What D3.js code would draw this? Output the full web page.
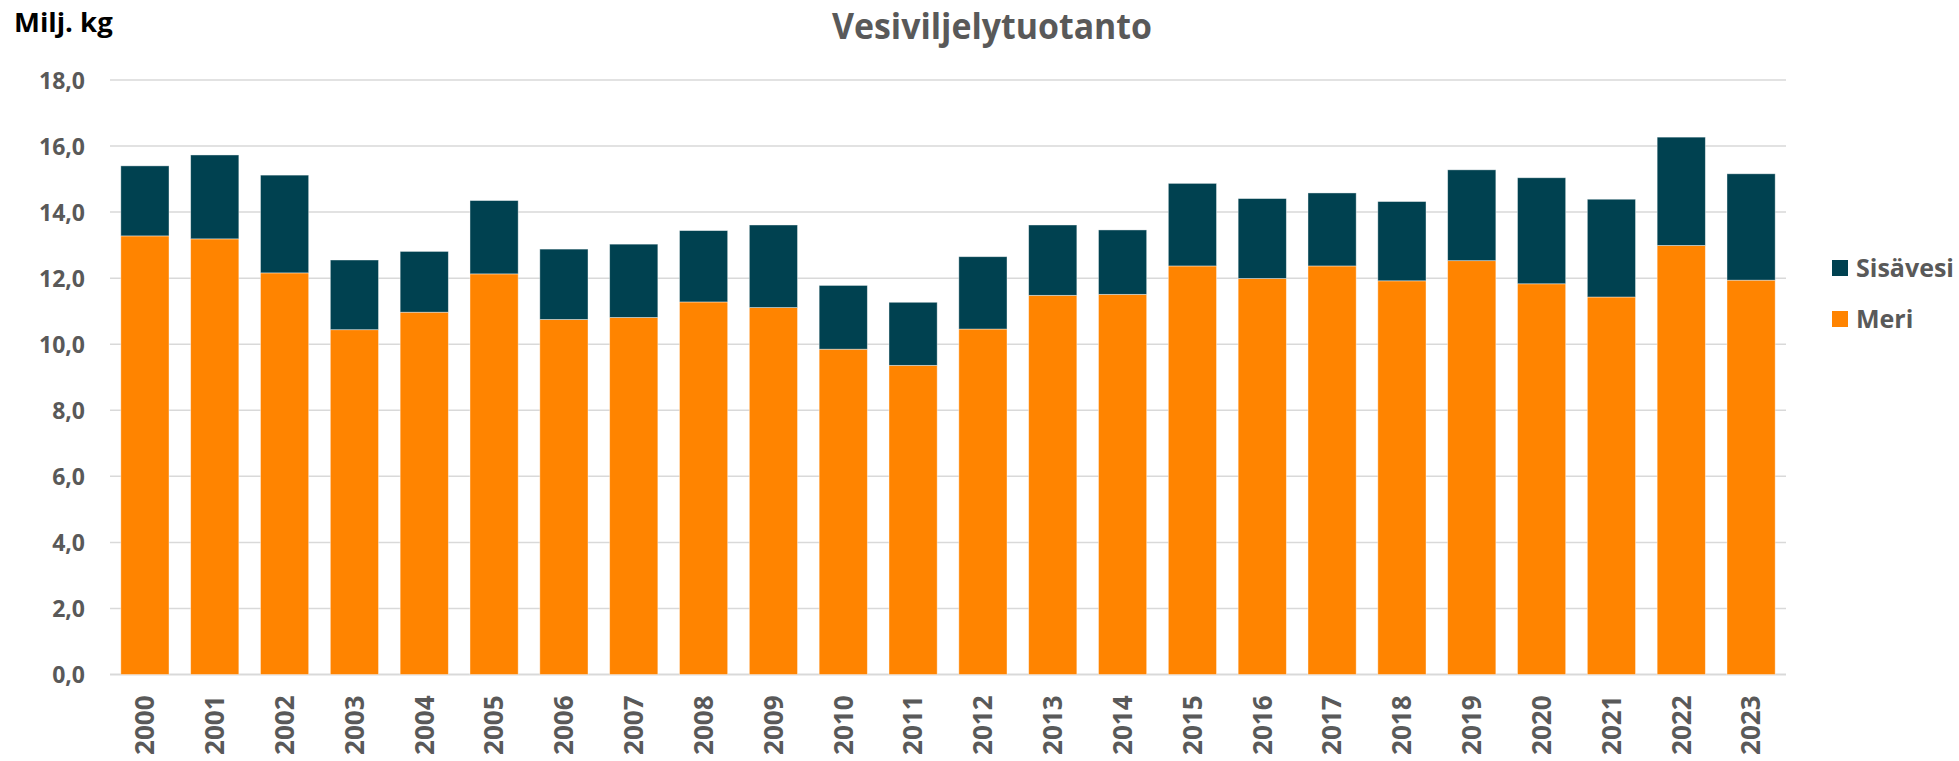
<!DOCTYPE html>
<html>
<head>
<meta charset="utf-8">
<script src="https://cdn.jsdelivr.net/npm/d3@7"></script>
<style>
  body { margin: 0; background: #fff; }
  svg { display: block; font-family: "Open Sans", "Noto Sans", sans-serif; }
</style>
</head>
<body>
<svg width="1959" height="761"></svg>
<script>
const years = ["2000","2001","2002","2003","2004","2005","2006","2007","2008","2009","2010","2011",
  "2012","2013","2014","2015","2016","2017","2018","2019","2020","2021","2022","2023"];
const meri = [13.28, 13.19, 12.16, 10.44, 10.97, 12.13, 10.75, 10.81, 11.28, 11.11, 9.85, 9.36,
  10.46, 11.48, 11.51, 12.37, 11.99, 12.37, 11.92, 12.53, 11.83, 11.43, 12.99, 11.94];
const sisavesi = [2.12, 2.54, 2.96, 2.11, 1.84, 2.22, 2.13, 2.22, 2.16, 2.50, 1.93, 1.91,
  2.19, 2.13, 1.95, 2.50, 2.42, 2.21, 2.40, 2.75, 3.21, 2.96, 3.28, 3.22];
const yTicks = [0, 2, 4, 6, 8, 10, 12, 14, 16, 18];
const seriesNames = ["Meri", "Sisävesi"];

const svg = d3.select("svg");
const grey = "#595959";

const color = d3.scaleOrdinal()
  .domain(seriesNames)
  .range(["#ff8400", "#004150"]);

const x = d3.scaleBand()
  .domain(years)
  .range([110, 1786])
  .paddingInner(0.31)
  .paddingOuter(0.155);

const y = d3.scaleLinear()
  .domain([0, 18])
  .range([674.5, 80]);

// rows for the stack
const rows = years.map((yr, i) => ({ year: yr, "Meri": meri[i], "Sisävesi": sisavesi[i] }));
const stacked = d3.stack().keys(seriesNames)(rows);

// gridlines
svg.append("g")
  .selectAll("line")
  .data(yTicks)
  .join("line")
  .attr("x1", 110)
  .attr("x2", 1786)
  .attr("y1", d => y(d))
  .attr("y2", d => y(d))
  .attr("stroke", "#d9d9d9")
  .attr("stroke-width", d => d === 0 ? 2 : 1.5);

// y axis labels
const yAxis = svg.append("g")
  .attr("transform", "translate(85,0)")
  .call(d3.axisLeft(y).tickValues(yTicks).tickSize(0).tickPadding(0)
    .tickFormat(d => d3.format(".1f")(d).replace(".", ",")));
yAxis.select(".domain").remove();
yAxis.selectAll("text")
  .attr("font-family", "Open Sans")
  .attr("font-size", 23)
  .attr("font-weight", "bold")
  .attr("fill", grey)
  .attr("dy", "0.36em");

// bars
svg.append("g")
  .selectAll("g")
  .data(stacked)
  .join("g")
  .attr("fill", d => color(d.key))
  .selectAll("rect")
  .data(d => d)
  .join("rect")
  .attr("x", d => x(d.data.year))
  .attr("width", x.bandwidth())
  .attr("y", d => y(d[1]))
  .attr("height", d => y(d[0]) - y(d[1]))
  .attr("stroke", "#fff")
  .attr("stroke-opacity", 0.5)
  .attr("stroke-width", 0.8);

// x axis labels
const xAxis = svg.append("g")
  .attr("transform", "translate(0,674.5)")
  .call(d3.axisBottom(x).tickSize(0).tickPadding(0));
xAxis.select(".domain").remove();
xAxis.selectAll("text")
  .attr("font-family", "Open Sans")
  .attr("font-size", 26)
  .attr("font-weight", "bold")
  .attr("fill", grey)
  .attr("text-anchor", "end")
  .attr("transform", "rotate(-90)")
  .attr("x", -21)
  .attr("y", 0)
  .attr("dy", "0.36em");

// title
svg.append("text")
  .attr("x", 992)
  .attr("y", 39)
  .attr("text-anchor", "middle")
  .attr("font-family", "Open Sans")
  .attr("font-size", 35.5)
  .attr("font-weight", "bold")
  .attr("fill", grey)
  .attr("textLength", 320)
  .attr("lengthAdjust", "spacingAndGlyphs")
  .text("Vesiviljelytuotanto");

// unit label
svg.append("text")
  .attr("x", 14)
  .attr("y", 31.5)
  .attr("font-family", "Open Sans")
  .attr("font-size", 27.5)
  .attr("font-weight", "bold")
  .attr("fill", "#000")
  .text("Milj. kg");

// legend
const legendItems = ["Sisävesi", "Meri"];
const legend = svg.append("g")
  .selectAll("g")
  .data(legendItems)
  .join("g")
  .attr("transform", (d, i) => `translate(1832,${260 + i * 51})`);

legend.append("rect")
  .attr("width", 16)
  .attr("height", 16)
  .attr("fill", d => color(d));

legend.append("text")
  .attr("x", 24)
  .attr("y", 16.5)
  .attr("font-family", "Open Sans")
  .attr("font-size", 25)
  .attr("font-weight", "bold")
  .attr("fill", grey)
  .text(d => d);
</script>
</body>
</html>
